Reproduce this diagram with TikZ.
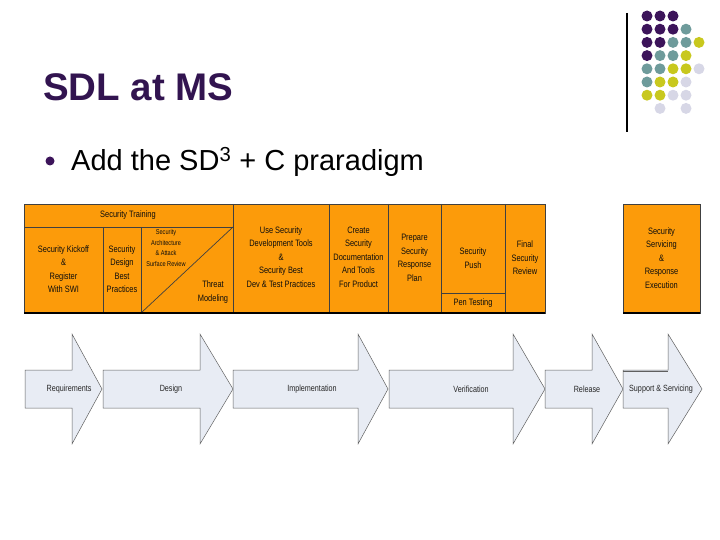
\documentclass[tikz,border=0pt]{standalone}
\usepackage{fontspec}
\setmainfont{Liberation Sans}
\newfontfamily\narrowfont[FakeStretch=0.8]{Liberation Sans}
\definecolor{titlepurple}{RGB}{50,20,80}
\definecolor{dotpurple}{RGB}{60,20,90}
\definecolor{dotteal}{RGB}{110,155,155}
\definecolor{dotyellow}{RGB}{200,200,30}
\definecolor{dotlav}{RGB}{215,215,230}
\definecolor{cellorange}{RGB}{252,155,10}
\definecolor{arrowfill}{RGB}{232,236,244}
\definecolor{arrowline}{RGB}{95,95,95}
\begin{document}
\begin{tikzpicture}[x=1pt,y=-1pt,
  cellline/.style={draw=black!75,line width=0.7pt},
  celltext/.style={font=\narrowfont\fontsize{9.3}{13.5}\selectfont,align=center,text=black!95,inner sep=0pt},
  smalltext/.style={font=\narrowfont\fontsize{7}{10.5}\selectfont,align=center,text=black!95,inner sep=0pt},
  arrowshape/.style={fill=arrowfill,draw=arrowline,line width=0.5pt,line join=miter},
  arrowlabel/.style={font=\narrowfont\fontsize{9}{11}\selectfont,text=black!85,inner sep=0pt},
  dot/.style={radius=5.5}]
\useasboundingbox (0,0) rectangle (720,540);
% title and bullet
\node[anchor=base west,font=\bfseries\fontsize{38.5}{46}\selectfont,text=titlepurple,inner sep=0pt] (title) at (43,101) {SDL at MS};
\fill[dotpurple] (50,161) circle (4.5);
\node[anchor=base west,font=\fontsize{29}{34}\selectfont,inner sep=0pt] (bullet) at (71,171) {Add the SD\textsuperscript{3} + C praradigm};
% decoration
\draw[line width=1.2pt] (627,13) -- (627,132);
\foreach \c/\r/\col in {0/0/dotpurple,1/0/dotpurple,2/0/dotpurple,
  0/1/dotpurple,1/1/dotpurple,2/1/dotpurple,3/1/dotteal,
  0/2/dotpurple,1/2/dotpurple,2/2/dotteal,3/2/dotteal,4/2/dotyellow,
  0/3/dotpurple,1/3/dotteal,2/3/dotteal,3/3/dotyellow,
  0/4/dotteal,1/4/dotteal,2/4/dotyellow,3/4/dotyellow,4/4/dotlav,
  0/5/dotteal,1/5/dotyellow,2/5/dotyellow,3/5/dotlav,
  0/6/dotyellow,1/6/dotyellow,2/6/dotlav,3/6/dotlav,
  1/7/dotlav,3/7/dotlav}
  \fill[\col] ({647+13*\c},{16+13.2*\r}) circle[dot];
% orange table
\fill[cellorange] (24,204) rectangle (545,313);
\draw[cellline] (24,204) rectangle (545,313);
\draw[cellline] (24,227) -- (233,227);
\foreach \x in {103,141} \draw[cellline] (\x,227) -- (\x,313);
\foreach \x in {233,329,388,441,505} \draw[cellline] (\x,204) -- (\x,313);
\draw[cellline] (441,293) -- (505,293);
\draw[cellline] (141,313) -- (233,227);
\draw[line width=1.6pt] (24,313) -- (545,313);
\fill[cellorange] (623,204) rectangle (700,313);
\draw[cellline] (623,204) rectangle (700,313);
\draw[line width=1.6pt] (623,313) -- (700,313);
% cell texts
\node[celltext] (training) at (128,215.5) {Security Training};
\node[celltext] (kickoff) at (63.5,269) {Security Kickoff\\\&\\Register\\With SWI};
\node[celltext] (design) at (122,269) {Security\\Design\\Best\\Practices};
\node[smalltext] (arch) at (166,248) {Security\\Architecture\\\& Attack\\Surface Review};
\node[celltext] (threat) at (213,292) {Threat\\Modeling};
\node[celltext] (tools) at (281,257) {Use Security\\Development Tools\\\&\\Security Best\\Dev \& Test Practices};
\node[celltext] (docs) at (358.5,257) {Create\\Security\\Documentation\\And Tools\\For Product};
\node[celltext] (plan) at (414.5,258) {Prepare\\Security\\Response\\Plan};
\node[celltext] (push) at (473,258) {Security\\Push};
\node[celltext] (pen) at (473,303) {Pen Testing};
\node[celltext] (final) at (525,258) {Final\\Security\\Review};
\node[celltext] (servicing) at (661.5,258) {Security\\Servicing\\\&\\Response\\Execution};
% process arrows
\foreach \L/\S/\T/\lx/\txt/\nm in {
  25/72/102/69/Requirements/req,
  103/200/233/171/Design/des,
  233/358/388/312/Implementation/imp,
  389/513/545/471/Verification/ver,
  545/592/623/587/Release/rel,
  623/668/702/661/Support \& Servicing/sup}{
  \draw[arrowshape] (\L,370) -- (\S,370) -- (\S,334) -- (\T,389) -- (\S,444) -- (\S,408) -- (\L,408) -- cycle;
  \node[arrowlabel] (\nm) at (\lx,389) {\txt};
}
\draw[line width=1pt,arrowline] (623,371.5) -- (668,371.5);
\end{tikzpicture}
\end{document}
